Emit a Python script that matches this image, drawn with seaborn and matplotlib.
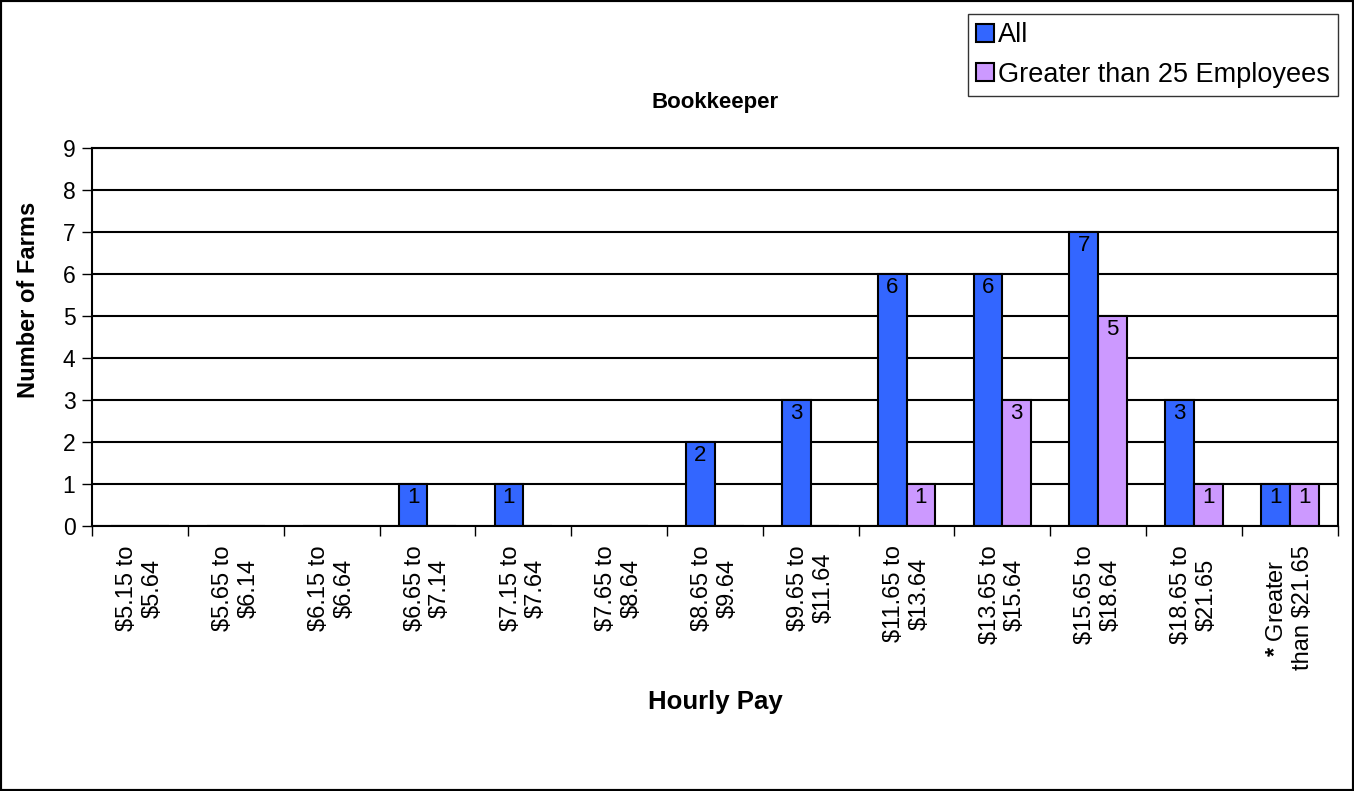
import matplotlib
matplotlib.use("Agg")
import matplotlib.pyplot as plt
from matplotlib.patches import Patch, Rectangle
import pandas as pd
import seaborn as sns

# pay ranges (x axis) and farm counts per group
ranges = [
    "\\$5.15 to\n\\$5.64", "\\$5.65 to\n\\$6.14", "\\$6.15 to\n\\$6.64",
    "\\$6.65 to\n\\$7.14", "\\$7.15 to\n\\$7.64", "\\$7.65 to\n\\$8.64",
    "\\$8.65 to\n\\$9.64", "\\$9.65 to\n\\$11.64", "\\$11.65 to\n\\$13.64",
    "\\$13.65 to\n\\$15.64", "\\$15.65 to\n\\$18.64", "\\$18.65 to\n\\$21.65",
    "$\\mathbf{*}$ Greater\nthan \\$21.65",
]
all_farms = [0, 0, 0, 1, 1, 0, 2, 3, 6, 6, 7, 3, 1]
big_farms = [0, 0, 0, 0, 0, 0, 0, 0, 1, 3, 5, 1, 1]
groups = ["All", "Greater than 25 Employees"]
colors = ["#3366FF", "#CC99FF"]

df = pd.DataFrame({
    "range": list(range(len(ranges))) * 2,
    "count": all_farms + big_farms,
    "group": [groups[0]] * len(ranges) + [groups[1]] * len(ranges),
})

sns.set_style("white")
plt.rcParams["font.family"] = ["Liberation Sans", "DejaVu Sans"]
plt.rcParams["mathtext.fontset"] = "custom"
plt.rcParams["mathtext.rm"] = "Liberation Sans"
plt.rcParams["mathtext.bf"] = "Liberation Sans:bold"
plt.rcParams["text.color"] = "black"
plt.rcParams["axes.labelcolor"] = "black"
plt.rcParams["xtick.color"] = "black"
plt.rcParams["ytick.color"] = "black"

fig = plt.figure(figsize=(13.54, 7.91), dpi=100)
ax = fig.add_axes([0.068, 0.335, 0.920, 0.478])

sns.barplot(data=df, x="range", y="count", hue="group", palette=colors,
            saturation=1, edgecolor="black", linewidth=1.5, width=0.6,
            gap=0, legend=False, ax=ax)

# value labels just inside the top of each bar
for cont in ax.containers:
    for bar in cont:
        h = bar.get_height()
        if h > 0:
            ax.annotate(str(int(h)), (bar.get_x() + bar.get_width() / 2, h),
                        xytext=(0, -2), textcoords="offset points",
                        ha="center", va="top", fontsize=16)

ax.set_xlim(-0.5, len(ranges) - 0.5)
ax.set_ylim(0, 9)
ax.set_yticks(range(10))
ax.yaxis.grid(True, color="black", lw=1.5)
ax.set_axisbelow(True)

ax.set_xticks(range(len(ranges)))
ax.set_xticklabels(ranges, rotation=90, ha="center", va="top",
                   multialignment="center", fontsize=17)
ax.set_xticks([i - 0.5 for i in range(len(ranges) + 1)], minor=True)
ax.tick_params(axis="x", which="major", length=0, pad=14)
ax.tick_params(axis="x", which="minor", length=7, width=1, color="black",
               direction="out", bottom=True)
ax.tick_params(axis="y", length=7, width=1, color="black", direction="out",
               left=True, labelsize=16.5, pad=5)

for s in ax.spines.values():
    s.set_color("black")
    s.set_linewidth(1.5)

ax.set_xlabel("Hourly Pay", fontsize=18.5, fontweight="bold")
ax.xaxis.set_label_coords(0.5, -0.435)
ax.set_ylabel("Number of Farms", fontsize=17, fontweight="bold")
ax.yaxis.set_label_coords(-0.042, 0.598)
ax.set_title("Bookkeeper", fontsize=16, fontweight="bold", y=1.106, pad=0)

handles = [Patch(facecolor=c, edgecolor="black", lw=1.5) for c in colors]
leg = fig.legend(handles, groups, loc="upper right",
                 bbox_to_anchor=(0.988, 0.982), fontsize=19.5,
                 frameon=True, fancybox=False, edgecolor="black",
                 handlelength=0.65, handleheight=0.65, handletextpad=0.15,
                 labelspacing=0.5, borderpad=0.3, borderaxespad=0)
leg.get_frame().set_linewidth(1)

fig.patches.append(Rectangle((0, 0), 1, 1, transform=fig.transFigure,
                             fill=False, edgecolor="black", lw=3))

fig.savefig("out.png", dpi=100)
